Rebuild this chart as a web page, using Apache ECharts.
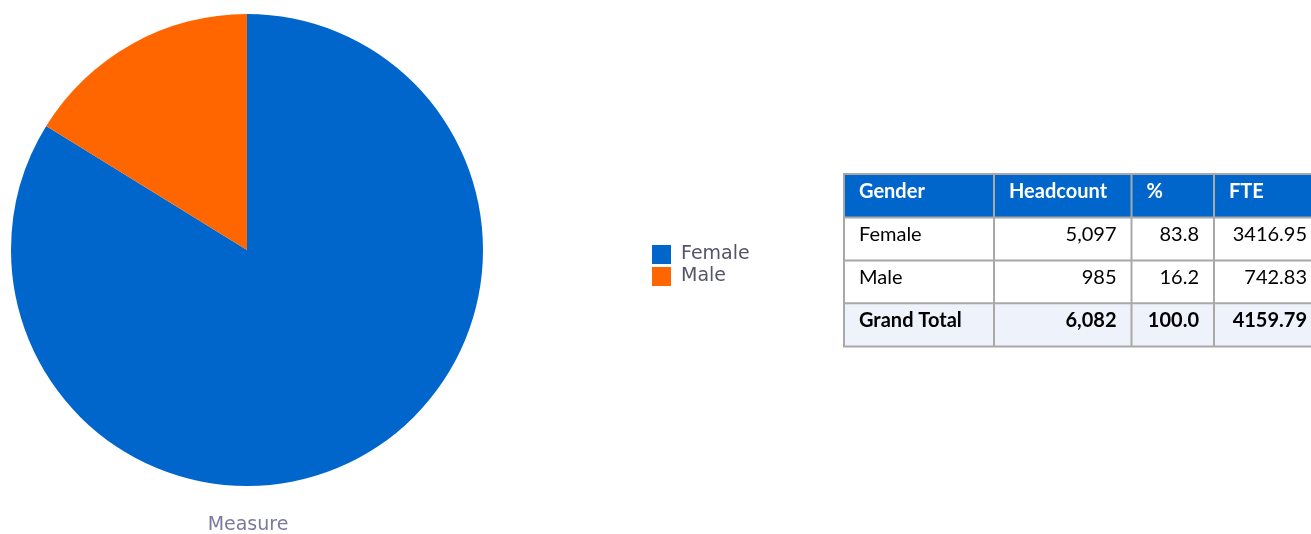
<!DOCTYPE html>
<html>
<head>
<meta charset="utf-8">
<script src="https://cdn.jsdelivr.net/npm/echarts@6/dist/echarts.min.js"></script>
<style>
  html, body { margin: 0; padding: 0; background: #fff; }
  #chart { width: 1311px; height: 534px; }
</style>
</head>
<body>
<div id="chart"></div>
<script>
// Headcount by gender
const genders = ['Female', 'Male'];
const headcount = [5097, 985];
const percent = ['83.8', '16.2'];
const fte = ['3416.95', '742.83'];
const totalRow = ['Grand Total', '6,082', '100.0', '4159.79'];
const tableHeader = ['Gender', 'Headcount', '%', 'FTE'];
const colors = ['#0066CC', '#FF6600'];

// table layout
const colX = [844, 994, 1131.5, 1214, 1322];
const rowY = [174, 217.5, 260.5, 303.2, 346.5];
const alignRight = [false, true, true, true];
const tableFont = 'Lato, "Open Sans", sans-serif';

const fmt = n => n.toLocaleString('en-US');
const bodyRows = genders.map((g, i) => [g, fmt(headcount[i]), percent[i], fte[i]]);
const allRows = [tableHeader].concat(bodyRows, [totalRow]);

const graphics = [];
// cell backgrounds
allRows.forEach((row, r) => {
  const fill = r === 0 ? '#0066CC' : (r === allRows.length - 1 ? '#EEF2FA' : '#FFFFFF');
  graphics.push({
    type: 'rect', silent: true, z: 1,
    shape: { x: colX[0], y: rowY[r], width: colX[colX.length - 1] - colX[0], height: rowY[r + 1] - rowY[r] },
    style: { fill }
  });
});
// grid lines
rowY.forEach(y => graphics.push({
  type: 'line', silent: true, z: 2,
  shape: { x1: colX[0] - 1, y1: y, x2: colX[colX.length - 1], y2: y },
  style: { stroke: '#A8A8A8', lineWidth: 2 }
}));
colX.forEach(x => graphics.push({
  type: 'line', silent: true, z: 2,
  shape: { x1: x, y1: rowY[0], x2: x, y2: rowY[rowY.length - 1] },
  style: { stroke: '#A8A8A8', lineWidth: 2 }
}));
// cell texts
allRows.forEach((row, r) => {
  const header = r === 0;
  const bold = header || r === allRows.length - 1;
  row.forEach((txt, c) => {
    const right = !header && alignRight[c];
    graphics.push({
      type: 'text', silent: true, z: 3,
      x: right ? colX[c + 1] - 15 : colX[c] + 15,
      y: rowY[r] + 17.5,
      style: {
        text: txt,
        fill: header ? '#FFFFFF' : '#000000',
        font: (bold ? 'bold ' : '') + '20px ' + tableFont,
        textAlign: right ? 'right' : 'left',
        textVerticalAlign: 'middle'
      }
    });
  });
});
// pie caption
graphics.push({
  type: 'text', silent: true, x: 248, y: 525,
  style: {
    text: 'Measure', fill: '#7A7A9E',
    font: '19px "DejaVu Sans", sans-serif',
    textAlign: 'center', textVerticalAlign: 'middle'
  }
});

const chart = echarts.init(document.getElementById('chart'), null, { renderer: 'canvas' });
chart.setOption({
  animation: false,
  color: colors,
  legend: {
    orient: 'vertical',
    left: 652, top: 245,
    padding: 0,
    itemWidth: 19, itemHeight: 19, itemGap: 3,
    icon: 'rect',
    data: genders,
    textStyle: {
      color: '#55556A',
      fontFamily: '"DejaVu Sans", sans-serif',
      fontSize: 19,
      padding: [0, 0, 0, 5]
    }
  },
  series: [{
    type: 'pie',
    name: 'Measure',
    center: [247, 250],
    radius: 236,
    startAngle: 90,
    clockwise: true,
    label: { show: false },
    labelLine: { show: false },
    emphasis: { scale: false },
    data: genders.map((g, i) => ({ name: g, value: headcount[i] }))
  }],
  graphic: graphics
});
</script>
</body>
</html>
